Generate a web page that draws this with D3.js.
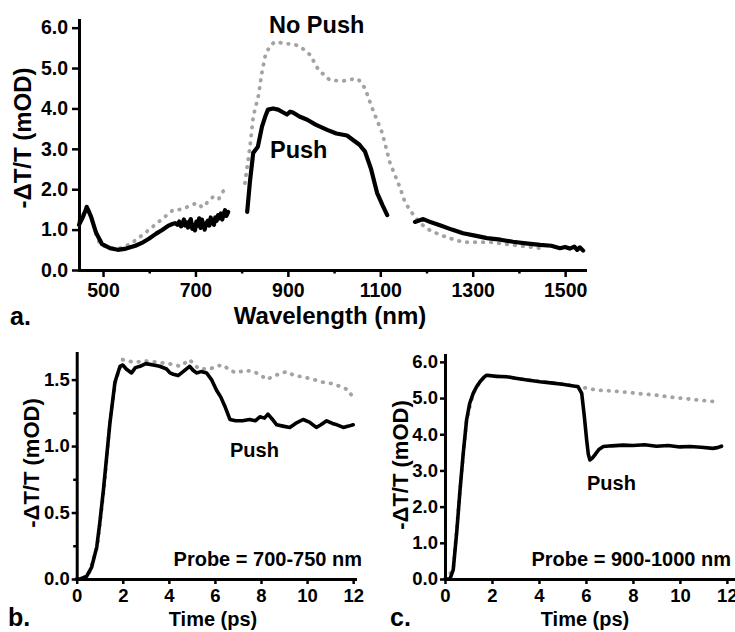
<!DOCTYPE html>
<html>
<head>
<meta charset="utf-8">
<script src="https://cdn.jsdelivr.net/npm/d3@7"></script>
<style>
  body { margin: 0; background: #fff; }
  text { font-family: "Liberation Sans", Arial, sans-serif; font-weight: bold; fill: #000; }
</style>
</head>
<body>
<div id="fig"></div>
<script>
// ---- data: panel a (wavelength nm, -dT/T mOD) ----
const pushVisible = [[448, 1.12], [456, 1.3], [465, 1.56], [474, 1.32], [485, 0.92], [498, 0.64], [515, 0.54],
  [532, 0.5], [550, 0.53], [570, 0.6], [584, 0.67], [600, 0.78], [615, 0.9], [628, 0.99], [642, 1.1],
  [650, 1.14], [656, 1.16], [661, 1.12], [665, 1.2], [669, 1.08], [672, 1.14], [675, 1.25], [678, 1.1],
  [681, 1.18], [684, 1.05], [687, 1.2], [690, 1.26], [693, 1.02], [696, 1.12], [699, 0.98], [702, 1.2],
  [705, 1.1], [708, 1.28], [711, 1.04], [714, 1.25], [717, 1.12], [720, 1.0], [723, 1.15], [727, 1.22],
  [730, 1.1], [733, 1.3], [736, 1.18], [740, 1.12], [743, 1.3], [746, 1.22], [749, 1.36], [752, 1.28],
  [755, 1.4], [758, 1.25], [761, 1.38], [764, 1.48], [767, 1.34], [771, 1.44]];
const pushNir1 = [[812, 1.44], [818, 2.2], [825, 2.9], [835, 3.05], [844, 3.55], [851, 3.8], [857, 3.97],
  [868, 4.0], [879, 3.97], [890, 3.9], [898, 3.85], [905, 3.92], [911, 3.9], [925, 3.8], [942, 3.72],
  [960, 3.6], [985, 3.47], [1005, 3.38], [1028, 3.33], [1041, 3.22], [1055, 3.1], [1067, 2.93],
  [1080, 2.5], [1093, 1.91], [1105, 1.6], [1115, 1.36]];
const pushNir2 = [[1175, 1.19], [1193, 1.26], [1210, 1.18], [1229, 1.11], [1255, 1.0], [1279, 0.91],
  [1305, 0.85], [1331, 0.79], [1360, 0.75], [1387, 0.7], [1415, 0.66], [1446, 0.62], [1470, 0.6],
  [1489, 0.54], [1500, 0.57], [1510, 0.53], [1520, 0.58], [1526, 0.5], [1532, 0.56], [1539, 0.48]];
const noPushVisible = [[448, 1.2], [456, 1.35], [465, 1.6], [475, 1.3], [486, 0.85], [494, 0.62], [515, 0.55],
  [537, 0.54], [560, 0.65], [580, 0.82], [600, 1.0], [617, 1.16], [635, 1.33], [652, 1.49], [670, 1.5],
  [690, 1.6], [703, 1.66], [715, 1.55], [738, 1.81], [750, 1.75], [760, 1.95], [768, 2.06]];
const noPushNir = [[807, 2.15], [818, 3.05], [825, 3.8], [836, 4.3], [844, 4.9], [851, 5.3], [861, 5.55],
  [872, 5.65], [883, 5.63], [896, 5.6], [909, 5.6], [926, 5.54], [948, 5.33], [966, 4.96], [991, 4.7],
  [1019, 4.68], [1035, 4.72], [1052, 4.73], [1067, 4.5], [1084, 3.96], [1104, 3.4], [1121, 2.65],
  [1136, 2.23], [1143, 2.03], [1154, 1.66], [1169, 1.41], [1186, 1.16], [1205, 1.0], [1229, 0.87],
  [1255, 0.77], [1279, 0.69], [1310, 0.69], [1338, 0.69], [1365, 0.65], [1387, 0.62], [1415, 0.58],
  [1446, 0.54]];

// ---- data: panel b (time ps, probe 700-750 nm) ----
const pushB = [[0, 0], [0.15, 0], [0.43, 0.02], [0.65, 0.09], [0.87, 0.24], [1.0, 0.42], [1.16, 0.67],
  [1.3, 0.92], [1.44, 1.17], [1.66, 1.48], [1.88, 1.6], [2.0, 1.61], [2.15, 1.58], [2.38, 1.55],
  [2.55, 1.59], [2.75, 1.6], [3.0, 1.62], [3.32, 1.61], [3.6, 1.6], [3.9, 1.58], [4.05, 1.55],
  [4.19, 1.54], [4.4, 1.53], [4.62, 1.56], [4.9, 1.6], [5.05, 1.57], [5.2, 1.55], [5.4, 1.56],
  [5.64, 1.55], [5.85, 1.5], [6.07, 1.42], [6.25, 1.37], [6.43, 1.3], [6.65, 1.2], [6.9, 1.19],
  [7.2, 1.19], [7.5, 1.2], [7.75, 1.19], [7.95, 1.22], [8.15, 1.21], [8.3, 1.24], [8.5, 1.2],
  [8.68, 1.16], [8.95, 1.15], [9.25, 1.14], [9.5, 1.17], [9.83, 1.2], [10.1, 1.18], [10.4, 1.14],
  [10.6, 1.16], [10.85, 1.19], [11.1, 1.17], [11.3, 1.16], [11.57, 1.14], [11.8, 1.15], [12, 1.16]];
const noPushB = [[0, 0], [0.5, 0.02], [0.9, 0.25], [1.2, 0.7], [1.45, 1.2], [1.7, 1.5], [2.0, 1.65],
  [2.5, 1.63], [3.0, 1.64], [3.5, 1.63], [4.0, 1.62], [4.5, 1.6], [4.9, 1.65], [5.3, 1.58], [5.78, 1.58],
  [6.05, 1.6], [6.35, 1.61], [6.65, 1.57], [6.94, 1.55], [7.3, 1.57], [7.66, 1.56], [7.95, 1.54],
  [8.24, 1.5], [8.6, 1.53], [9.1, 1.56], [9.45, 1.53], [9.83, 1.52], [10.3, 1.5], [10.7, 1.48],
  [11.1, 1.47], [11.57, 1.44], [11.8, 1.42], [12, 1.36]];

// ---- data: panel c (time ps, probe 900-1000 nm) ----
const pushC = [[0, 0], [0.21, 0], [0.35, 0.25], [0.5, 1.3], [0.64, 2.46], [0.78, 3.5], [0.92, 4.4],
  [1.05, 4.85], [1.2, 5.13], [1.35, 5.32], [1.49, 5.45], [1.65, 5.57], [1.77, 5.63], [2.2, 5.6],
  [2.62, 5.59], [3.0, 5.55], [3.5, 5.5], [4.04, 5.45], [4.5, 5.42], [5.0, 5.38], [5.4, 5.34],
  [5.67, 5.31], [5.82, 5.13], [5.93, 4.5], [6.03, 3.84], [6.1, 3.45], [6.17, 3.29], [6.28, 3.35],
  [6.38, 3.43], [6.55, 3.58], [6.74, 3.66], [7.1, 3.68], [7.59, 3.7], [8.0, 3.69], [8.5, 3.71],
  [9.0, 3.67], [9.5, 3.69], [10.0, 3.65], [10.43, 3.66], [10.9, 3.64], [11.4, 3.61], [11.6, 3.63],
  [11.77, 3.67]];
const noPushC = [[0, 0], [0.35, 0.25], [0.64, 2.46], [0.92, 4.4], [1.2, 5.13], [1.49, 5.45], [1.77, 5.63],
  [2.62, 5.59], [3.5, 5.5], [4.5, 5.43], [5.3, 5.36], [5.82, 5.3], [6.45, 5.22], [7.0, 5.2], [7.59, 5.17],
  [8.3, 5.12], [9.0, 5.08], [9.7, 5.02], [10.43, 4.97], [11.0, 4.93], [11.56, 4.9]];

// tick values
const ticksAx = [500, 700, 900, 1100, 1300, 1500];
const ticksAxMinor = [600, 800, 1000, 1200, 1400];
const ticksAy = [0, 1, 2, 3, 4, 5, 6];
const ticksT = [0, 2, 4, 6, 8, 10, 12];
const ticksBy = [0, 0.5, 1.0, 1.5];
const ticksByMinor = [0.25, 0.75, 1.25];
const ticksCy = [0, 1, 2, 3, 4, 5, 6];

const svg = d3.select("#fig")
    .append("svg")
    .attr("width", 735)
    .attr("height", 632);

// draws one panel: scales, axes, lines
function panel(p) {
    let x = d3.scaleLinear().domain(p.xDomain).range(p.xRange);
    let y = d3.scaleLinear().domain(p.yDomain).range(p.yRange);
    let g = svg.append("g");

    let line = d3.line().x(d => x(d[0])).y(d => y(d[1]));

    // gray dotted "no push" first, black "push" on top
    p.gray.forEach(seg => {
        g.append("path").datum(seg)
            .attr("d", line)
            .attr("fill", "none")
            .attr("stroke", "#a3a3a3")
            .attr("stroke-width", 3.8)
            .attr("stroke-linecap", "round")
            .attr("stroke-dasharray", "0.5,7.5");
    });
    p.black.forEach(seg => {
        g.append("path").datum(seg)
            .attr("d", line)
            .attr("fill", "none")
            .attr("stroke", "#000")
            .attr("stroke-width", p.lw)
            .attr("stroke-linejoin", "round")
            .attr("stroke-linecap", "round");
    });

    // minor ticks
    if (p.xMinor) {
        g.append("g")
            .attr("transform", `translate(0, ${p.yRange[0]})`)
            .call(d3.axisBottom(x).tickValues(p.xMinor).tickSize(3.5).tickFormat("").tickSizeOuter(0))
            .call(a => a.select(".domain").remove())
            .selectAll("line").attr("stroke-width", 2.5);
    }
    if (p.yMinor) {
        g.append("g")
            .attr("transform", `translate(${p.xRange[0]}, 0)`)
            .call(d3.axisLeft(y).tickValues(p.yMinor).tickSize(3.5).tickFormat("").tickSizeOuter(0))
            .call(a => a.select(".domain").remove())
            .selectAll("line").attr("stroke-width", 2.5);
    }

    // x axis
    let xa = g.append("g")
        .attr("transform", `translate(0, ${p.yRange[0]})`)
        .call(d3.axisBottom(x).tickValues(p.xTicks).tickFormat(d3.format("d"))
            .tickSize(p.tick).tickPadding(p.xPad).tickSizeOuter(0));
    // y axis
    let ya = g.append("g")
        .attr("transform", `translate(${p.xRange[0]}, 0)`)
        .call(d3.axisLeft(y).tickValues(p.yTicks).tickFormat(d3.format(".1f"))
            .tickSize(p.tick).tickPadding(p.yPad).tickSizeOuter(0));

    [xa, ya].forEach(a => {
        a.attr("font-family", null).attr("font-size", null);
        a.select(".domain").attr("stroke-width", 3).attr("stroke-linecap", "square");
        a.selectAll(".tick line").attr("stroke-width", 2.5);
        a.selectAll(".tick text").style("font-size", p.tickFont + "px");
    });

    // y-axis label
    g.append("text")
        .attr("transform", `translate(${p.yLab[0]}, ${p.yLab[1]}) rotate(-90)`)
        .style("text-anchor", "middle")
        .style("font-size", p.yLabFont + "px")
        .text("-\u0394T/T (mOD)");
    return {x, y, g};
}

// panel a
let a = panel({
    xDomain: [448, 1543], xRange: [79, 585],
    yDomain: [0, 6.19], yRange: [270, 20],
    xTicks: ticksAx, xMinor: ticksAxMinor, yTicks: ticksAy,
    gray: [noPushVisible, noPushNir], black: [pushVisible, pushNir1, pushNir2],
    lw: 4.2, tick: 7, xPad: 6, yPad: 4, tickFont: 19.5,
    yLab: [31, 138], yLabFont: 24
});
a.g.append("text").attr("x", 269).attr("y", 33).style("font-size", "23.5px").text("No Push");
a.g.append("text").attr("x", 270).attr("y", 158).style("font-size", "23.5px").text("Push");
a.g.append("text").attr("x", 330).attr("y", 324).style("text-anchor", "middle")
    .style("font-size", "24px").text("Wavelength (nm)");
a.g.append("text").attr("x", 10).attr("y", 325).style("font-size", "25px").text("a.");

// panel b
let b = panel({
    xDomain: [0, 12.08], xRange: [76.7, 355],
    yDomain: [0, 1.70], yRange: [579, 353],
    xTicks: ticksT, yTicks: ticksBy, yMinor: ticksByMinor,
    gray: [noPushB], black: [pushB],
    lw: 3.6, tick: 5, xPad: 5, yPad: 2, tickFont: 18.5,
    yLab: [39, 463], yLabFont: 22
});
b.g.append("text").attr("x", 230).attr("y", 457).style("font-size", "20px").text("Push");
b.g.append("text").attr("x", 362).attr("y", 566).style("text-anchor", "end")
    .style("font-size", "20px").text("Probe = 700-750 nm");
b.g.append("text").attr("x", 213).attr("y", 626).style("text-anchor", "middle")
    .style("font-size", "20px").text("Time (ps)");
b.g.append("text").attr("x", 8).attr("y", 626).style("font-size", "25px").text("b.");

// panel c
let c = panel({
    xDomain: [0, 12.26], xRange: [445, 733],
    yDomain: [0, 6.19], yRange: [579, 355],
    xTicks: ticksT, yTicks: ticksCy,
    gray: [noPushC], black: [pushC],
    lw: 3.6, tick: 5, xPad: 5, yPad: 2, tickFont: 18.5,
    yLab: [408, 465], yLabFont: 22
});
c.g.append("text").attr("x", 587).attr("y", 490).style("font-size", "20px").text("Push");
c.g.append("text").attr("x", 731).attr("y", 566).style("text-anchor", "end")
    .style("font-size", "20px").text("Probe = 900-1000 nm");
c.g.append("text").attr("x", 585).attr("y", 626).style("text-anchor", "middle")
    .style("font-size", "20px").text("Time (ps)");
c.g.append("text").attr("x", 390).attr("y", 626).style("font-size", "25px").text("c.");
</script>
</body>
</html>
